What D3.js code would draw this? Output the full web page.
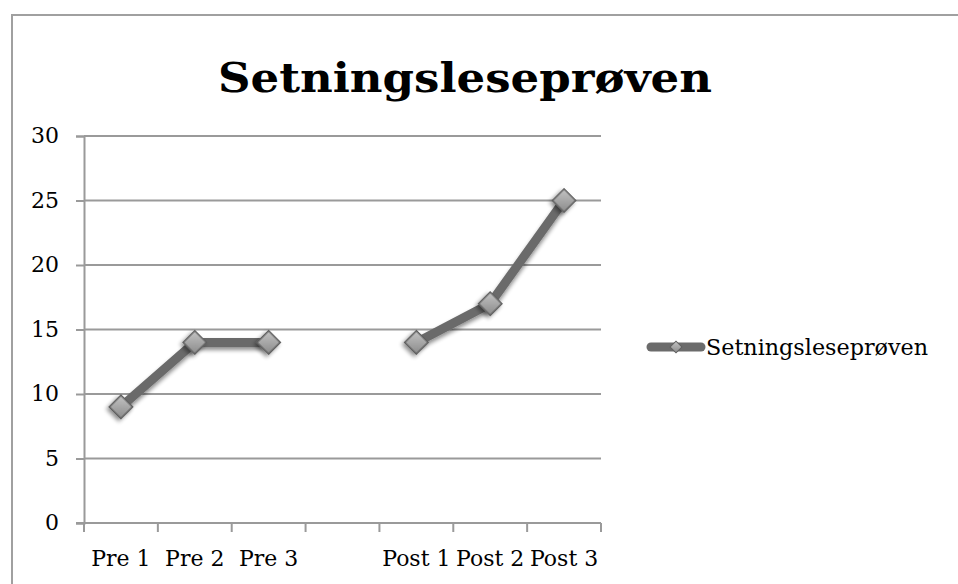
<!DOCTYPE html>
<html>
<head>
<meta charset="utf-8">
<script src="https://cdn.jsdelivr.net/npm/d3@7"></script>
<style>
  body { margin: 0; background: #fff; }
  text { font-family: "DejaVu Serif", "Liberation Serif", serif; fill: #000; }
</style>
</head>
<body>
<div id="chart"></div>
<script>
// chart data
var categories = ["Pre 1", "Pre 2", "Pre 3", "", "Post 1", "Post 2", "Post 3"];
var values = [9, 14, 14, null, 14, 17, 25];
var yTicks = [0, 5, 10, 15, 20, 25, 30];
var seriesName = "Setningsleseprøven";
var chartTitle = "Setningsleseprøven";

var W = 958, H = 584;
var margin = { top: 136, left: 84, right: 357, bottom: 61 };
var width = W - margin.left - margin.right,
    height = H - margin.top - margin.bottom;

var svg = d3.select("#chart").append("svg")
    .attr("width", W)
    .attr("height", H);

// drop shadow + marker gradient
var defs = svg.append("defs");
var shadow = defs.append("filter").attr("id", "shadow")
    .attr("x", "-50%").attr("y", "-50%").attr("width", "200%").attr("height", "200%");
shadow.append("feGaussianBlur").attr("in", "SourceAlpha").attr("stdDeviation", 2.2);
shadow.append("feOffset").attr("dx", 0).attr("dy", 3).attr("result", "off");
shadow.append("feComponentTransfer").append("feFuncA").attr("type", "linear").attr("slope", 0.45);
var merge = shadow.append("feMerge");
merge.append("feMergeNode");
merge.append("feMergeNode").attr("in", "SourceGraphic");

var grad = defs.append("linearGradient").attr("id", "mk")
    .attr("x1", 0).attr("y1", 0).attr("x2", 1).attr("y2", 1);
grad.append("stop").attr("offset", "0%").attr("stop-color", "#c4c4c4");
grad.append("stop").attr("offset", "100%").attr("stop-color", "#8a8a8a");

// outer frame
svg.append("rect")
    .attr("x", 12).attr("y", 15)
    .attr("width", W + 10).attr("height", H + 10)
    .attr("fill", "none")
    .attr("stroke", "#a0a0a0")
    .attr("stroke-width", 2);

// title
svg.append("text")
    .attr("x", 465).attr("y", 92)
    .attr("text-anchor", "middle")
    .attr("font-size", 41)
    .attr("font-weight", "bold")
    .attr("textLength", 494)
    .attr("lengthAdjust", "spacingAndGlyphs")
    .text(chartTitle);

var g = svg.append("g")
    .attr("transform", "translate(" + margin.left + "," + margin.top + ")");

var x = d3.scaleBand().domain(d3.range(categories.length)).range([0, width]);
var y = d3.scaleLinear().domain([0, 30]).range([height, 0]);

// gridlines + y axis
var yAxis = d3.axisLeft(y).tickValues(yTicks).tickSize(8).tickPadding(17);
var gy = g.append("g").call(yAxis);
gy.select(".domain").attr("stroke", "#9a9a9a").attr("stroke-width", 2);
gy.selectAll(".tick line").attr("stroke", "#9a9a9a").attr("stroke-width", 2);
gy.selectAll(".tick text").attr("font-size", 22).attr("dy", "0.3em");

g.append("g").selectAll("line.grid")
    .data(yTicks.filter(function(d) { return d > 0; }))
    .enter().append("line")
    .attr("x1", 0).attr("x2", width)
    .attr("y1", function(d) { return y(d); })
    .attr("y2", function(d) { return y(d); })
    .attr("stroke", "#9a9a9a")
    .attr("stroke-width", 2);

// x axis: labels at band centres, ticks at band edges
var xAxis = d3.axisBottom(x).tickSize(0).tickPadding(27)
    .tickFormat(function(i) { return categories[i]; });
var gx = g.append("g").attr("transform", "translate(0," + height + ")").call(xAxis);
gx.select(".domain").remove();
gx.selectAll(".tick text").attr("font-size", 22);

var edges = x.domain().map(function(i) { return x(i); }).concat([width]);
var gxt = g.append("g").attr("transform", "translate(0," + height + ")");
gxt.append("line").attr("x1", -8).attr("x2", width)
    .attr("stroke", "#9a9a9a").attr("stroke-width", 2);
gxt.selectAll("line.t").data(edges).enter().append("line")
    .attr("x1", function(d) { return d; }).attr("x2", function(d) { return d; })
    .attr("y1", 0).attr("y2", 9)
    .attr("stroke", "#9a9a9a").attr("stroke-width", 2);

// series line
var pts = values.map(function(v, i) { return { i: i, v: v }; });
var line = d3.line()
    .defined(function(d) { return d.v != null; })
    .x(function(d) { return x(d.i) + x.bandwidth() / 2; })
    .y(function(d) { return y(d.v); });

g.append("path")
    .datum(pts)
    .attr("d", line)
    .attr("fill", "none")
    .attr("stroke", "#6b6b6b")
    .attr("stroke-width", 9)
    .attr("stroke-linejoin", "round")
    .attr("filter", "url(#shadow)");

var sym = d3.symbol().type(d3.symbolSquare).size(270);
g.selectAll("path.mk")
    .data(pts.filter(function(d) { return d.v != null; }))
    .enter().append("path")
    .attr("d", sym)
    .attr("transform", function(d) {
        return "translate(" + (x(d.i) + x.bandwidth() / 2) + "," + y(d.v) + ") rotate(45)";
    })
    .attr("fill", "url(#mk)")
    .attr("stroke", "#5e5e5e")
    .attr("stroke-width", 1.5)
    .attr("filter", "url(#shadow)");

// legend
var lg = svg.append("g").attr("transform", "translate(647,347)");
lg.append("line").attr("x1", 4).attr("x2", 54)
    .attr("stroke", "#6b6b6b").attr("stroke-width", 9)
    .attr("stroke-linecap", "round");
lg.append("path")
    .attr("d", d3.symbol().type(d3.symbolSquare).size(70))
    .attr("transform", "translate(29,0) rotate(45)")
    .attr("fill", "url(#mk)")
    .attr("stroke", "#5e5e5e")
    .attr("stroke-width", 1);
lg.append("text")
    .attr("x", 59).attr("y", 0).attr("dy", "0.35em")
    .attr("font-size", 22)
    .attr("textLength", 222)
    .attr("lengthAdjust", "spacingAndGlyphs")
    .text(seriesName);
</script>
</body>
</html>
